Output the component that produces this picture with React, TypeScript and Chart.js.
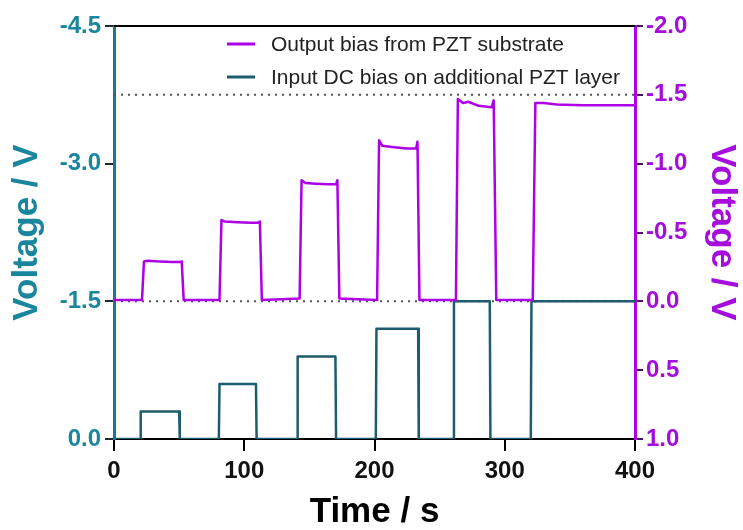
import React, { useEffect, useRef } from 'react';
import { Chart, registerables } from 'chart.js';

Chart.register(...registerables);

// ---- data ----
const xTicks = [0, 100, 200, 300, 400];
const leftTicks = [-4.5, -3.0, -1.5, 0.0];
const rightTicks = [-2.0, -1.5, -1.0, -0.5, 0.0, 0.5, 1.0];

const seriesLabels = ['Output bias from PZT substrate', 'Input DC bias on additional PZT layer'];

// Output bias (right axis)
const outputT = [0, 21.5, 23, 26, 35, 45, 50.5, 52, 53.5, 81, 82.5, 85, 95, 105, 110.5, 112, 113.5,
  142.5, 144, 147, 155, 165, 170.5, 171.5, 173, 202, 203.5, 206, 215, 225, 232, 233, 234.5,
  262.5, 264, 268, 272, 280, 290, 291.5, 293.5, 321.5, 323.5, 330, 340, 360, 380, 400];
const outputV = [-0.01, -0.01, -0.29, -0.295, -0.29, -0.285, -0.285, -0.29, -0.01, -0.01, -0.59, -0.58, -0.575, -0.57, -0.57, -0.58, -0.01,
  -0.02, -0.88, -0.86, -0.855, -0.85, -0.85, -0.88, -0.02, -0.01, -1.17, -1.13, -1.12, -1.11, -1.11, -1.16, -0.01,
  -0.01, -1.47, -1.44, -1.45, -1.42, -1.41, -1.46, -0.01, -0.01, -1.44, -1.44, -1.43, -1.425, -1.425, -1.425];

// Input DC bias (left axis)
const inputT = [0, 20, 20.5, 50, 50.5, 80.5, 81, 109, 109.5, 140.5, 141, 170, 170.5, 201, 201.5, 233.5, 234,
  260.5, 261, 288.5, 289, 320, 320.5, 400];
const inputV = [0, 0, -0.3, -0.3, 0, 0, -0.6, -0.6, 0, 0, -0.9, -0.9, 0, 0, -1.2, -1.2, 0,
  0, -1.5, -1.5, 0, 0, -1.5, -1.5];

// dotted reference levels (right axis)
const refLevels = [-1.5, 0.0];

// ---- styles ----
const FONT = "'Liberation Sans', Arial, sans-serif";
const PURPLE = '#ad00e6';
const PURPLE_TXT = '#a40ddc';
const TEAL_LINE = '#1d5c6e';
const TEAL_TXT = '#1a869d';
const TEAL_AXIS = '#197a8f';

const pts = (t: number[], v: number[]) => t.map((x, i) => ({ x, y: v[i] }));

const framePlugin = {
  id: 'frameLegend',
  afterDraw(chart: any) {
    const { ctx, chartArea } = chart;
    ctx.save();
    ctx.strokeStyle = '#000';
    ctx.lineWidth = 2;
    ctx.beginPath();
    ctx.moveTo(chartArea.left, chartArea.top);
    ctx.lineTo(chartArea.right, chartArea.top);
    ctx.stroke();

    const colors = [PURPLE, TEAL_LINE];
    ctx.font = `21px ${FONT}`;
    ctx.textBaseline = 'middle';
    ctx.textAlign = 'left';
    seriesLabels.forEach((lab, i) => {
      const y = chartArea.top + 18 + i * 33;
      const x0 = chartArea.left + 113;
      ctx.strokeStyle = colors[i];
      ctx.lineWidth = 3;
      ctx.beginPath();
      ctx.moveTo(x0, y);
      ctx.lineTo(x0 + 28, y);
      ctx.stroke();
      ctx.fillStyle = '#222';
      ctx.fillText(lab, x0 + 44, y + 1);
    });
    ctx.restore();
  },
};

export default function App() {
  const ref = useRef<HTMLCanvasElement | null>(null);

  useEffect(() => {
    if (!ref.current) return;
    const datasets: any[] = [
      {
        label: seriesLabels[0],
        data: pts(outputT, outputV),
        yAxisID: 'yR',
        borderColor: PURPLE,
        borderWidth: 2.5,
        borderJoinStyle: 'round',
        pointRadius: 0,
        tension: 0,
      },
      {
        label: seriesLabels[1],
        data: pts(inputT, inputV),
        yAxisID: 'yL',
        borderColor: TEAL_LINE,
        borderWidth: 2.5,
        borderJoinStyle: 'round',
        pointRadius: 0,
        tension: 0,
      },
      ...refLevels.map((lv) => ({
        label: 'ref',
        data: [{ x: xTicks[0], y: lv }, { x: xTicks[xTicks.length - 1], y: lv }],
        yAxisID: 'yR',
        borderColor: '#555',
        borderWidth: 2,
        borderDash: [2, 5],
        pointRadius: 0,
      })),
    ];

    const chart = new Chart(ref.current, {
      type: 'line',
      data: { datasets },
      plugins: [framePlugin],
      options: {
        animation: false,
        responsive: false,
        events: [],
        layout: { padding: { top: 26, left: 0, right: 0, bottom: 0 } },
        plugins: { legend: { display: false }, tooltip: { enabled: false } },
        scales: {
          x: {
            type: 'linear',
            position: 'bottom',
            min: 0,
            max: 400,
            afterBuildTicks: (s: any) => { s.ticks = xTicks.map((v) => ({ value: v })); },
            afterFit: (s: any) => { s.height = 91; },
            ticks: {
              color: '#111',
              font: { family: FONT, size: 24, weight: 'bold' },
              padding: 6,
              maxRotation: 0,
              callback: (v: any) => String(v),
            },
            grid: { display: true, drawOnChartArea: false, drawTicks: true, tickLength: 12, color: '#000', lineWidth: 2 },
            border: { display: true, color: '#000', width: 2 },
            title: {
              display: true,
              text: 'Time / s',
              color: '#000',
              font: { family: FONT, size: 35, weight: 'bold', lineHeight: 1 },
              padding: { top: 0, bottom: 0 },
            },
          },
          yL: {
            type: 'linear',
            position: 'left',
            reverse: true,
            min: -4.5,
            max: 0,
            afterBuildTicks: (s: any) => { s.ticks = leftTicks.map((v) => ({ value: v })); },
            afterFit: (s: any) => { s.width = 114; },
            ticks: {
              color: TEAL_TXT,
              font: { family: FONT, size: 24, weight: 'bold' },
              padding: 4,
              callback: (v: any) => Number(v).toFixed(1),
            },
            grid: { display: true, drawOnChartArea: false, drawTicks: true, tickLength: 9, color: '#1a2a30', lineWidth: 2 },
            border: { display: true, color: TEAL_AXIS, width: 3 },
            title: {
              display: true,
              text: 'Voltage / V',
              color: TEAL_TXT,
              font: { family: FONT, size: 35, weight: 'bold', lineHeight: 1 },
              padding: { top: 10, bottom: 0 },
            },
          },
          yR: {
            type: 'linear',
            position: 'right',
            reverse: true,
            min: -2.0,
            max: 1.0,
            afterBuildTicks: (s: any) => { s.ticks = rightTicks.map((v) => ({ value: v })); },
            afterFit: (s: any) => { s.width = 108; },
            ticks: {
              color: PURPLE_TXT,
              font: { family: FONT, size: 24, weight: 'bold' },
              padding: 3,
              callback: (v: any) => Number(v).toFixed(1),
            },
            grid: { display: true, drawOnChartArea: false, drawTicks: true, tickLength: 8, color: '#4a1060', lineWidth: 2 },
            border: { display: true, color: PURPLE, width: 3 },
            title: {
              display: true,
              text: 'Voltage / V',
              color: PURPLE_TXT,
              font: { family: FONT, size: 35, weight: 'bold', lineHeight: 1 },
              padding: { top: 4, bottom: 0 },
            },
          },
        },
      } as any,
    });
    return () => chart.destroy();
  }, []);

  return (
    <div style={{ position: 'fixed', left: 0, top: 0, width: 743, height: 530, background: '#fff' }}>
      <canvas ref={ref} width={743} height={530} style={{ width: 743, height: 530, display: 'block' }} />
    </div>
  );
}
